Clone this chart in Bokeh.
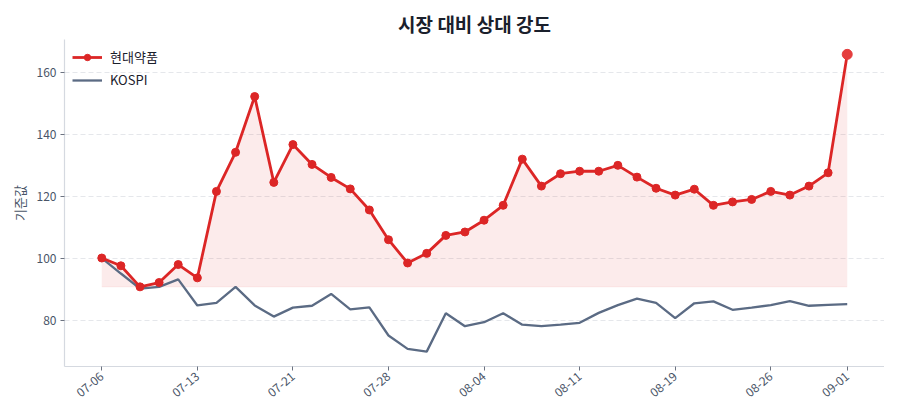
from bokeh.plotting import figure
from bokeh.models import Range1d, FixedTicker, Legend, LegendItem, Spacer
from bokeh.layouts import row, column
from bokeh.embed import file_html
from bokeh.resources import INLINE

dates = ["07-06", "07-07", "07-08", "07-09", "07-10", "07-13", "07-14", "07-15", "07-16", "07-17",
         "07-21", "07-22", "07-23", "07-24", "07-27", "07-28", "07-29", "07-30", "07-31", "08-03",
         "08-04", "08-05", "08-06", "08-07", "08-10", "08-11", "08-12", "08-13", "08-14", "08-18",
         "08-19", "08-20", "08-21", "08-24", "08-25", "08-26", "08-27", "08-28", "08-31", "09-01"]
stock = [100.0, 97.5, 90.7, 92.1, 97.9, 93.6, 121.5, 134.1, 152.1, 124.4,
         136.6, 130.2, 126.0, 122.3, 115.5, 105.9, 98.4, 101.5, 107.3, 108.4,
         112.2, 117.0, 131.9, 123.2, 127.2, 128.0, 128.0, 129.9, 126.1, 122.5,
         120.3, 122.2, 117.0, 118.1, 118.9, 121.5, 120.3, 123.2, 127.5, 165.7]
kospi = [100.0, 95.0, 90.1, 90.7, 93.1, 84.7, 85.5, 90.7, 84.7, 81.1,
         84.0, 84.6, 88.4, 83.4, 84.1, 75.0, 70.7, 69.8, 82.2, 78.0,
         79.3, 82.2, 78.5, 78.0, 78.5, 79.1, 82.3, 84.8, 86.9, 85.5,
         80.6, 85.4, 86.0, 83.3, 84.0, 84.8, 86.1, 84.6, 84.9, 85.1]
tick_idx = [0, 5, 10, 15, 20, 25, 30, 35, 39]
y_ticks = [80, 100, 120, 140, 160]

stock_name = "현대약품"
index_name = "KOSPI"
title_text = "시장 대비 상대 강도"
y_label = "기준값"

FONT = "Noto Sans CJK KR"
RED = "#dc2626"
SLATE = "#5b6b84"
TXT = "#4a5568"

x = list(range(len(dates)))
n = len(x)
xpad = (n - 1) * 0.05
allv = stock + kospi
ypad = (max(allv) - min(allv)) * 0.05
base = min(stock)

p = figure(width=878, height=400, output_backend="svg", toolbar_location=None,
           x_range=Range1d(-xpad, n - 1 + xpad),
           y_range=Range1d(min(allv) - ypad, max(allv) + ypad),
           min_border_left=10, min_border_right=0, min_border_top=10, min_border_bottom=30)

p.title.text = title_text
p.title.align = "center"
p.title.text_font = FONT
p.title.text_font_size = "19px"
p.title.text_font_style = "bold"
p.title.text_color = "#1a202c"
p.title.standoff = 6

p.outline_line_color = None
p.background_fill_color = "white"
p.border_fill_color = "white"

p.xgrid.grid_line_color = None
p.ygrid.grid_line_color = "#e5e7eb"
p.ygrid.grid_line_dash = "5 3"
p.ygrid.grid_line_width = 1
p.ygrid.ticker = FixedTicker(ticks=y_ticks)

p.xaxis.ticker = FixedTicker(ticks=tick_idx)
p.xaxis.major_label_overrides = {i: dates[i] for i in tick_idx}
p.xaxis.major_label_orientation = 0.7
p.yaxis.ticker = FixedTicker(ticks=y_ticks)
p.yaxis.axis_label = y_label
p.yaxis.axis_label_text_font = FONT
p.yaxis.axis_label_text_font_size = "13px"
p.yaxis.axis_label_text_font_style = "normal"
p.yaxis.axis_label_text_color = TXT
p.yaxis.axis_label_standoff = 5

for ax in (p.xaxis, p.yaxis):
    ax.axis_line_color = "#d5d9e0"
    ax.axis_line_width = 1.2
    ax.major_tick_line_color = "#6b7280"
    ax.major_tick_out = 4
    ax.major_tick_in = 0
    ax.minor_tick_line_color = None
    ax.major_label_text_font = FONT
    ax.major_label_text_font_size = "12px"
    ax.major_label_text_color = TXT
    ax.major_label_standoff = 4

p.varea(x=x, y1=[base] * n, y2=stock, fill_color=RED, fill_alpha=0.09)
p.line(x=[0, n - 1], y=[base, base], line_color=RED, line_alpha=0.08, line_width=1)

k_line = p.line(x=x, y=kospi, line_color=SLATE, line_width=2.3)
s_line = p.line(x=x, y=stock, line_color=RED, line_width=2.8)
s_pts = p.scatter(x=x, y=stock, size=8, fill_color=RED, line_color=RED)
p.scatter(x=[x[-1]], y=[stock[-1]], size=10, fill_color="#e53e3e", line_color="#e53e3e")

legend = Legend(items=[LegendItem(label=stock_name, renderers=[s_line, s_pts]),
                       LegendItem(label=index_name, renderers=[k_line])],
                location="top_left")
legend.background_fill_alpha = 0
legend.border_line_color = None
legend.label_text_font = FONT
legend.label_text_font_size = "13px"
legend.label_text_color = "#1a202c"
legend.glyph_width = 30
legend.glyph_height = 16
legend.spacing = 4
legend.margin = 8
legend.padding = 3
legend.label_standoff = 8
p.add_layout(legend)

layout = column(Spacer(height=4), row(Spacer(width=6), p))
open("out.html", "w").write(file_html(layout, INLINE))
